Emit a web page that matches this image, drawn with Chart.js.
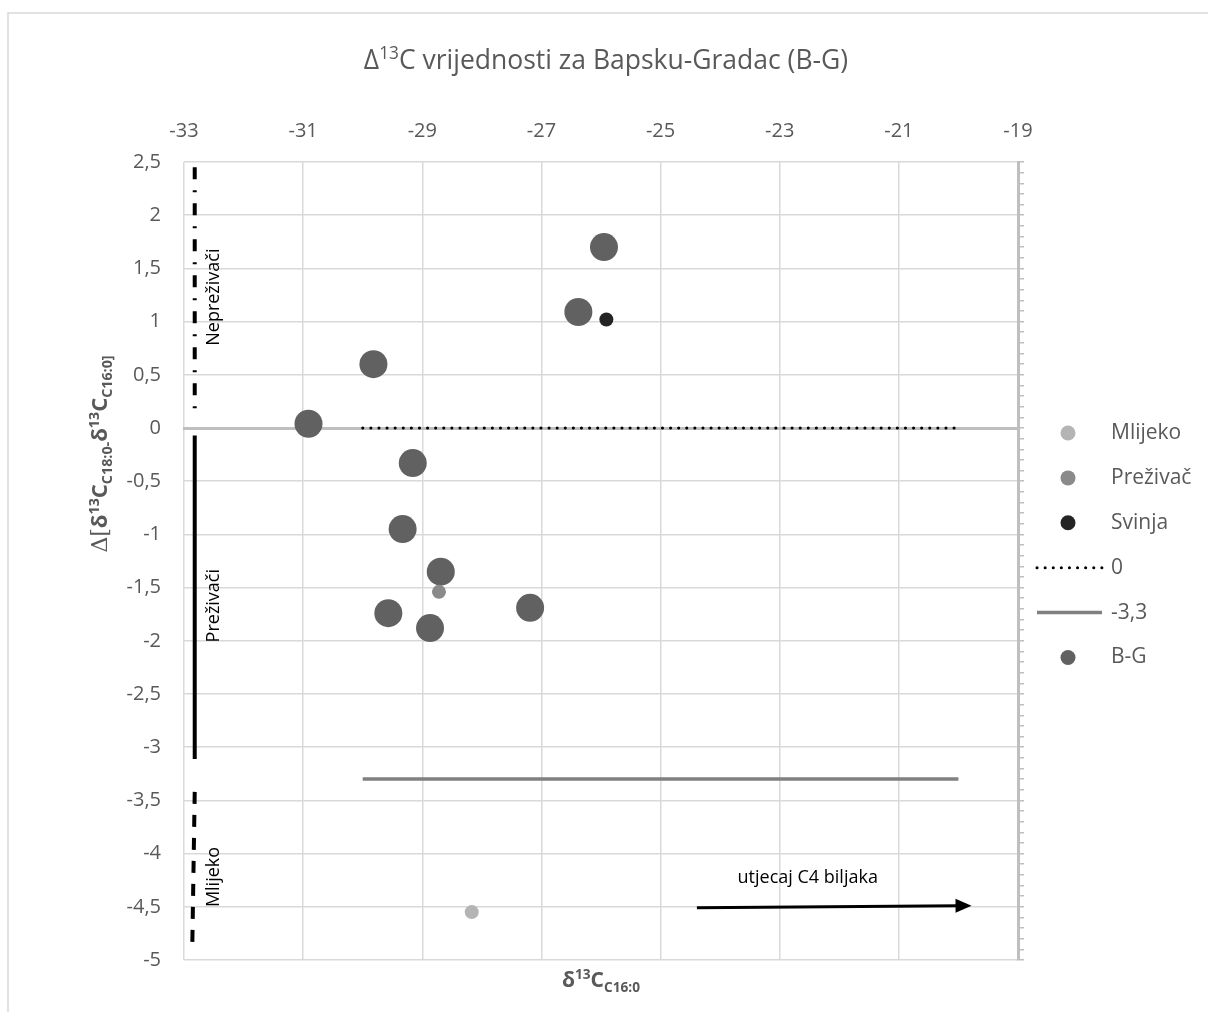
<!DOCTYPE html>
<html>
<head>
<meta charset="utf-8">
<script src="https://cdn.jsdelivr.net/npm/chart.js@4.4.1/dist/chart.umd.min.js"></script>
<style>
html, body { margin: 0; padding: 0; background: #fff; }
</style>
</head>
<body>
<canvas id="grafikon" width="1208" height="1012"></canvas>
<script>
// vrijednosti ocitane sa slike
const xTicks = [-33, -31, -29, -27, -25, -23, -21, -19];
const yTicks = [2.5, 2, 1.5, 1, 0.5, 0, -0.5, -1, -1.5, -2, -2.5, -3, -3.5, -4, -4.5, -5];

const mlijekoX = [-28.17];
const mlijekoY = [-4.55];

const prezivacX = [-28.72];
const prezivacY = [-1.54];

const svinjaX = [-25.91];
const svinjaY = [1.02];

const nulaX = [-30, -20];
const nulaY = [0, 0];

const granicaX = [-30, -20];
const granicaY = [-3.3, -3.3];

const bgX = [-25.95, -26.38, -29.82, -30.91, -29.16, -29.33, -28.69, -29.57, -28.87, -27.19];
const bgY = [1.70, 1.09, 0.60, 0.04, -0.33, -0.95, -1.35, -1.74, -1.88, -1.69];

// oznake podrucja uz lijevi rub
const podrucjaNazivi = ['Nepreživači', 'Preživači', 'Mlijeko'];
const podrucjaX = [[-32.82, -32.82], [-32.82, -32.82], [-32.82, -32.86]];
const podrucjaY = [[2.45, 0.15], [-0.07, -3.11], [-3.42, -4.84]];
const podrucjaTekstX = -32.5;
const podrucjaTekstY = [1.23, -1.67, -4.22];

const strelicaX = [-24.39, -19.78];
const strelicaY = [-4.51, -4.49];
const strelicaTekst = 'utjecaj C4 biljaka';
const strelicaTekstX = -22.53;
const strelicaTekstY = -4.23;

const FONT = '"Open Sans", sans-serif';
const SIVI_TEKST = '#595959';

function tocke(xs, ys) {
    return xs.map(function (x, i) { return { x: x, y: ys[i] }; });
}

function richFont(p, base) {
    const size = p.s ? base * 0.65 : base;
    return (p.b ? 'bold ' : '') + size + 'px ' + (p.f || FONT);
}

function drawRich(ctx, parts, x, y, base, color, angle) {
    ctx.save();
    ctx.translate(x, y);
    if (angle) ctx.rotate(angle);
    ctx.fillStyle = color;
    ctx.textBaseline = 'alphabetic';
    ctx.textAlign = 'left';
    let total = 0;
    const widths = parts.map(function (part) {
        ctx.font = richFont(part[1], base);
        const w = ctx.measureText(part[0]).width;
        total += w;
        return w;
    });
    let cx = -total / 2;
    parts.forEach(function (part, i) {
        const p = part[1];
        ctx.font = richFont(p, base);
        const dy = p.s === 'sup' ? -base * 0.38 : (p.s === 'sub' ? base * 0.22 : 0);
        ctx.fillText(part[0], cx, dy);
        cx += widths[i];
    });
    ctx.restore();
}

const datasets = [
    {
        label: 'Mlijeko', data: tocke(mlijekoX, mlijekoY),
        backgroundColor: '#b4b4b4', pointRadius: 7, pointHoverRadius: 7, borderWidth: 0
    },
    {
        label: 'Preživač', data: tocke(prezivacX, prezivacY),
        backgroundColor: '#8a8a8a', pointRadius: 7, pointHoverRadius: 7, borderWidth: 0
    },
    {
        label: 'Svinja', data: tocke(svinjaX, svinjaY),
        backgroundColor: '#242424', pointRadius: 7, pointHoverRadius: 7, borderWidth: 0
    },
    {
        label: '0', data: tocke(nulaX, nulaY), showLine: true,
        borderColor: '#000', borderWidth: 3, borderDash: [0.1, 8], borderCapStyle: 'round',
        pointRadius: 0, vrsta: 'linija'
    },
    {
        label: '-3,3', data: tocke(granicaX, granicaY), showLine: true,
        borderColor: '#808080', borderWidth: 3.5, pointRadius: 0, vrsta: 'linija'
    },
    {
        label: 'B-G', data: tocke(bgX, bgY),
        backgroundColor: '#616161', pointRadius: 14, pointHoverRadius: 14, borderWidth: 0
    }
];

const crtice = [[12, 11, 2, 11], [], [12, 11]];
podrucjaNazivi.forEach(function (naziv, i) {
    datasets.push({
        label: naziv, data: tocke(podrucjaX[i], podrucjaY[i]), showLine: true,
        borderColor: '#000', borderWidth: 4, borderDash: crtice[i], pointRadius: 0,
        uLegendi: false
    });
});

const okvir = {
    id: 'okvir',
    beforeDraw: function (chart) {
        const ctx = chart.ctx;
        ctx.save();
        ctx.fillStyle = '#fff';
        ctx.fillRect(0, 0, chart.width, chart.height);
        ctx.strokeStyle = '#d9d9d9';
        ctx.lineWidth = 1.5;
        ctx.strokeRect(8, 13, chart.width + 20, chart.height + 20);
        ctx.restore();
    }
};

const natpisi = {
    id: 'natpisi',
    afterDraw: function (chart) {
        const ctx = chart.ctx;
        const sx = chart.scales.x;
        const sy = chart.scales.y;

        // naslov
        drawRich(ctx, [['Δ', {}], ['13', { s: 'sup' }], ['C vrijednosti za Bapsku-Gradac (B-G)', {}]],
            606, 69, 26.5, SIVI_TEKST, 0);

        // naslov osi x
        drawRich(ctx, [['δ', { b: 1 }], ['13', { b: 1, s: 'sup' }], ['C', { b: 1 }], ['C16:0', { b: 1, s: 'sub' }]],
            (chart.chartArea.left + chart.chartArea.right) / 2, 987, 21, SIVI_TEKST, 0);

        // naslov osi y
        drawRich(ctx, [['Δ[', { f: '"DejaVu Serif", serif' }], ['δ', { b: 1 }], ['13', { b: 1, s: 'sup' }], ['C', { b: 1 }],
            ['C18:0-', { b: 1, s: 'sub' }], ['δ', { b: 1 }], ['13', { b: 1, s: 'sup' }], ['C', { b: 1 }],
            ['C16:0]', { b: 1, s: 'sub' }]],
            107, 454, 22, SIVI_TEKST, -Math.PI / 2);

        // oznake podrucja
        ctx.save();
        ctx.fillStyle = '#000';
        ctx.font = '18px ' + FONT;
        ctx.textAlign = 'center';
        ctx.textBaseline = 'middle';
        podrucjaNazivi.forEach(function (naziv, i) {
            ctx.save();
            ctx.translate(sx.getPixelForValue(podrucjaTekstX), sy.getPixelForValue(podrucjaTekstY[i]));
            ctx.rotate(-Math.PI / 2);
            ctx.fillText(naziv, 0, 0);
            ctx.restore();
        });

        // strelica C4
        const x1 = sx.getPixelForValue(strelicaX[0]);
        const y1 = sy.getPixelForValue(strelicaY[0]);
        const x2 = sx.getPixelForValue(strelicaX[1]);
        const y2 = sy.getPixelForValue(strelicaY[1]);
        const kut = Math.atan2(y2 - y1, x2 - x1);
        ctx.strokeStyle = '#000';
        ctx.lineWidth = 3;
        ctx.beginPath();
        ctx.moveTo(x1, y1);
        ctx.lineTo(x2 - 12 * Math.cos(kut), y2 - 12 * Math.sin(kut));
        ctx.stroke();
        ctx.translate(x2, y2);
        ctx.rotate(kut);
        ctx.beginPath();
        ctx.moveTo(0, 0);
        ctx.lineTo(-16, -7);
        ctx.lineTo(-16, 7);
        ctx.closePath();
        ctx.fill();
        ctx.restore();

        ctx.save();
        ctx.fillStyle = '#000';
        ctx.font = '18px ' + FONT;
        ctx.textAlign = 'center';
        ctx.textBaseline = 'middle';
        ctx.fillText(strelicaTekst, sx.getPixelForValue(strelicaTekstX), sy.getPixelForValue(strelicaTekstY));
        ctx.restore();

        // legenda
        ctx.save();
        ctx.font = '21px ' + FONT;
        ctx.textBaseline = 'middle';
        ctx.textAlign = 'left';
        let ly = 433;
        chart.data.datasets.forEach(function (ds) {
            if (ds.uLegendi === false) return;
            if (ds.vrsta === 'linija') {
                ctx.save();
                ctx.strokeStyle = ds.borderColor;
                ctx.lineWidth = ds.borderWidth;
                ctx.lineCap = ds.borderCapStyle || 'butt';
                ctx.setLineDash(ds.borderDash || []);
                ctx.beginPath();
                ctx.moveTo(1037, ly);
                ctx.lineTo(1102, ly);
                ctx.stroke();
                ctx.restore();
            } else {
                ctx.fillStyle = ds.backgroundColor;
                ctx.beginPath();
                ctx.arc(1068, ly, 7.5, 0, Math.PI * 2);
                ctx.fill();
            }
            ctx.fillStyle = SIVI_TEKST;
            ctx.fillText(ds.label, 1111, ly);
            ly += 44.9;
        });
        ctx.restore();
    }
};

const chart = new Chart(document.getElementById('grafikon'), {
    type: 'scatter',
    data: { datasets: datasets },
    options: {
        responsive: false,
        animation: false,
        events: [],
        layout: { padding: { left: 0, top: 0, right: 180, bottom: 52 } },
        scales: {
            x: {
                type: 'linear', position: 'top', min: -33, max: -19,
                afterBuildTicks: function (s) { s.ticks = xTicks.map(function (v) { return { value: v }; }); },
                afterFit: function (s) { s.height = 162; },
                ticks: { font: { family: FONT, size: 20 }, color: SIVI_TEKST, padding: 19, maxRotation: 0 },
                grid: { color: '#d9d9d9', lineWidth: 1.5, drawTicks: false },
                border: { display: false }
            },
            y: {
                type: 'linear', position: 'left', min: -5, max: 2.5,
                afterBuildTicks: function (s) { s.ticks = yTicks.map(function (v) { return { value: v }; }); },
                afterFit: function (s) { s.width = 184; },
                ticks: {
                    font: { family: FONT, size: 20 }, color: SIVI_TEKST, padding: 23,
                    callback: function (v) { return String(v).replace('.', ','); }
                },
                grid: { color: '#d9d9d9', lineWidth: 1.5, drawTicks: false },
                border: { display: false }
            },
            y2: {
                type: 'linear', position: 'right', min: -5, max: 2.5,
                afterFit: function (s) { s.width = 10; },
                ticks: { display: false, stepSize: 0.1, maxTicksLimit: 200 },
                grid: { drawOnChartArea: false, drawTicks: true, tickLength: 6, color: '#bfbfbf', lineWidth: 1.5 },
                border: { color: '#bfbfbf', width: 3 }
            },
            x0: {
                type: 'linear', position: { y: 0 }, min: -33, max: -19,
                ticks: { display: false },
                grid: { display: false, drawTicks: false },
                border: { color: '#bfbfbf', width: 3 }
            }
        },
        plugins: {
            legend: { display: false },
            title: { display: false },
            tooltip: { enabled: false }
        }
    },
    plugins: [okvir, natpisi]
});
</script>
</body>
</html>
